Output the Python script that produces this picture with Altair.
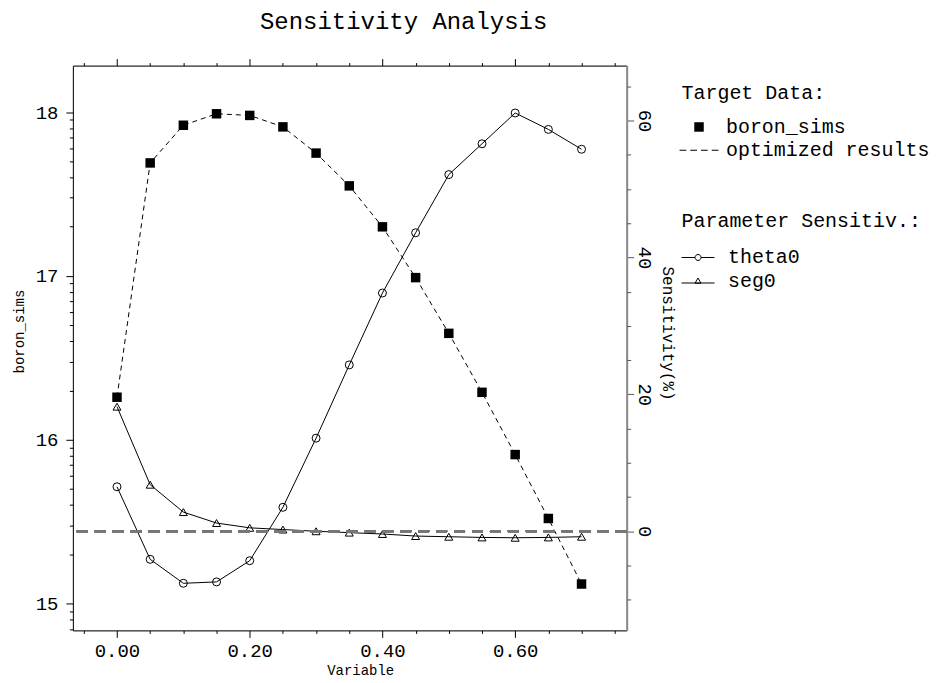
import math
import altair as alt
import pandas as pd

# ---------------- data ----------------
variable = [0.00, 0.05, 0.10, 0.15, 0.20, 0.25, 0.30, 0.35, 0.40, 0.45, 0.50, 0.55, 0.60, 0.65, 0.70]
boron_sims = [16.26, 17.69, 17.92, 17.99, 17.98, 17.91, 17.75, 17.55, 17.30, 16.99, 16.65, 16.29, 15.91, 15.52, 15.12]
optimized_results = [16.26, 17.69, 17.92, 17.99, 17.98, 17.91, 17.75, 17.55, 17.30, 16.99, 16.65, 16.29, 15.91, 15.52, 15.12]
theta0 = [6.5, -4.1, -7.6, -7.4, -4.3, 3.5, 13.6, 24.3, 34.8, 43.6, 52.1, 56.6, 61.1, 58.7, 55.8]
seg0 = [18.2, 6.8, 2.8, 1.2, 0.5, 0.25, 0.0, -0.2, -0.4, -0.7, -0.8, -0.9, -0.95, -0.9, -0.8]

x_major = [0.0, 0.2, 0.4, 0.6]
x_minor = [-0.05, 0.05, 0.10, 0.15, 0.25, 0.30, 0.35, 0.45, 0.50, 0.55, 0.65, 0.70, 0.75]
left_major = [15, 16, 17, 18]
left_minor = [b + math.log10(k) for b in (14, 15, 16, 17) for k in range(2, 10)]
right_major = [0, 20, 40, 60]
right_minor = [-10, -5, 5, 10, 15, 25, 30, 35, 45, 50, 55, 65]

target_entries = ["boron_sims", "optimized results"]
param_entries = ["theta0", "seg0"]

FONT = "Liberation Mono"

# legend symbol paths (unit box [-1,1] -> symbol size)
SQUARE = "M-0.95,-0.95H0.95V0.95H-0.95Z"
DASHES = ("M-3.9,-0.1H-2.55V0.1H-3.9Z M-1.75,-0.1H-0.4V0.1H-1.75Z "
          "M0.4,-0.1H1.75V0.1H0.4Z M2.55,-0.1H3.9V0.1H2.55Z")
THETA_SYM = "M-3.3,0H-0.6M0.6,0H3.3M0.6,0A0.6,0.6,0,1,1,-0.6,0A0.6,0.6,0,1,1,0.6,0"
SEG_SYM = "M-3.3,0.45H3.3M0,-0.55L0.6,0.5L-0.6,0.5Z"

df_b = pd.DataFrame({"variable": variable, "boron_sims": boron_sims,
                     "optimized_results": optimized_results})
df_s = pd.DataFrame({
    "variable": variable + variable,
    "value": theta0 + seg0,
    "param": ["theta0"] * len(variable) + ["seg0"] * len(variable),
})

xscale = alt.Scale(domain=[-0.0665, 0.768], nice=False, zero=False)
yl_scale = alt.Scale(domain=[14.837, 18.284], nice=False, zero=False)
yr_scale = alt.Scale(domain=[-14.48, 68.02], nice=False, zero=False)

common_axis = dict(grid=False, tickColor="black", labelColor="black",
                   tickWidth=1, labelFont=FONT, titleFont=FONT, titleColor="black",
                   titleFontWeight="normal")
frame_on = dict(domain=True, domainColor="black", domainWidth=1)
frame_off = dict(domain=False)

x_bottom_major = alt.X("variable:Q", scale=xscale, axis=alt.Axis(
    orient="bottom", values=x_major, format=".2f", tickSize=7, labelFontSize=19,
    labelPadding=4, title="Variable", titleFontSize=14, titleX=288, titleY=40,
    titleAlign="center", titleBaseline="middle", **common_axis, **frame_on))
x_bottom_minor = alt.X("variable:Q", scale=xscale, axis=alt.Axis(
    orient="bottom", values=x_minor, tickSize=3, labels=False, title=None,
    **common_axis, **frame_off))
x_top_major = alt.X("variable:Q", scale=xscale, axis=alt.Axis(
    orient="top", values=x_major, tickSize=7, labels=False, title=None,
    **common_axis, **frame_on))
x_top_minor = alt.X("variable:Q", scale=xscale, axis=alt.Axis(
    orient="top", values=x_minor, tickSize=3, labels=False, title=None,
    **common_axis, **frame_off))

yl_major = alt.Y("optimized_results:Q", scale=yl_scale, axis=alt.Axis(
    orient="left", values=left_major, format="d", tickSize=7, labelFontSize=19,
    labelPadding=8, labelAlign="right", labelBaseline="middle", labelAngle=0,
    title="boron_sims", titleFontSize=14, titleAngle=270,
    titleX=-53, titleY=266, titleAlign="center", titleBaseline="middle",
    **common_axis, **frame_on))
yl_minor = alt.Y("boron_sims:Q", scale=yl_scale, axis=alt.Axis(
    orient="left", values=left_minor, tickSize=3.5, labels=False, title=None,
    **common_axis, **frame_off))

right_axis = dict(common_axis)
right_axis.update(tickColor="#555555")
yr_major = alt.Y("value:Q", scale=yr_scale, axis=alt.Axis(
    orient="right", values=right_major, format="d", tickSize=7, labelFontSize=19,
    labelAngle=90, labelAlign="center", labelBaseline="alphabetic", labelPadding=5,
    title="Sensitivity(%)", titleFontSize=16, titleAngle=90, titleX=41, titleY=268,
    titleAlign="center", titleBaseline="middle",
    **right_axis, domain=True, domainColor="#888888", domainWidth=2))
yr_minor = alt.Y("value:Q", scale=yr_scale, axis=alt.Axis(
    orient="right", values=right_minor, tickSize=4, labels=False, title=None,
    **right_axis, **frame_off))

legend_common = dict(orient="none", titleFont=FONT, titleFontSize=20, titleFontWeight="normal",
                     titleColor="black", labelFont=FONT, labelFontSize=20, labelColor="black",
                     symbolSize=100, symbolStrokeWidth=1, rowPadding=3.3,
                     padding=0, symbolStrokeColor="black", labelLimit=0, titleLimit=0)

# ---------------- left (boron_sims) group ----------------
base_b = alt.Chart(df_b)
opt_line = base_b.mark_line(color="black", strokeWidth=1, strokeDash=[5, 4]).encode(
    x=x_bottom_major, y=yl_major)
sq_points = base_b.mark_square(color="black", size=90, opacity=1).encode(
    x=x_bottom_minor, y=yl_minor)
legend_a = base_b.transform_filter("false").transform_calculate(tgt="'boron_sims'").mark_point(
    filled=True, color="black", size=100, opacity=1).encode(
    x=x_top_major,
    y=alt.Y("boron_sims:Q", scale=yl_scale, axis=None),
    shape=alt.Shape("tgt:N", scale=alt.Scale(domain=target_entries, range=[SQUARE, DASHES]),
                    legend=alt.Legend(title="Target Data:", legendX=610, legendY=17.5,
                                      symbolOffset=7.5, labelOffset=17, titlePadding=14,
                                      symbolFillColor="black", **legend_common)))
left = alt.layer(opt_line, sq_points, legend_a).resolve_axis(x="independent", y="independent")

# ---------------- right (sensitivity) group ----------------
base_s = alt.Chart(df_s)
sens_lines = base_s.mark_line(color="black", strokeWidth=1).encode(
    x=x_top_minor, y=yr_major, detail="param:N")
sens_points = base_s.mark_point(filled=False, color="black", size=64, strokeWidth=1,
                                opacity=1).encode(
    x=alt.X("variable:Q", scale=xscale, axis=None), y=yr_minor,
    shape=alt.Shape("param:N", scale=alt.Scale(domain=param_entries,
                                               range=["circle", "triangle-up"]), legend=None))
zero_rule = base_s.mark_rule(color="#777777", strokeWidth=2, strokeDash=[11, 7]).encode(
    y=alt.YDatum(0, scale=yr_scale, axis=None))
legend_b = base_s.transform_filter("false").mark_point(
    filled=False, color="black", strokeWidth=1, size=100, opacity=1).encode(
    shape=alt.Shape("param:N", scale=alt.Scale(domain=param_entries, range=[THETA_SYM, SEG_SYM]),
                    legend=alt.Legend(title="Parameter Sensitiv.:", legendX=610, legendY=145.8,
                                      symbolOffset=6.5, labelOffset=20, titlePadding=16.5,
                                      symbolFillColor="transparent", **legend_common)))
right = alt.layer(sens_lines, sens_points, zero_rule, legend_b).resolve_scale(
    shape="independent").resolve_axis(x="independent", y="independent")

chart = alt.layer(left, right).resolve_scale(
    y="independent", shape="independent").resolve_axis(
    x="independent", y="independent").properties(
    width=555, height=566,
    title=alt.TitleParams("Sensitivity Analysis", font=FONT, fontSize=24, fontWeight="normal",
                          color="black", anchor="middle", dx=54, offset=24),
    autosize=alt.AutoSizeParams(type="none"),
    padding={"left": 65, "top": 57, "right": 312, "bottom": 52},
).configure_view(stroke="black", strokeWidth=1).configure(background="white")

chart.save("out.html", embed_options={"renderer": "svg", "actions": False})
